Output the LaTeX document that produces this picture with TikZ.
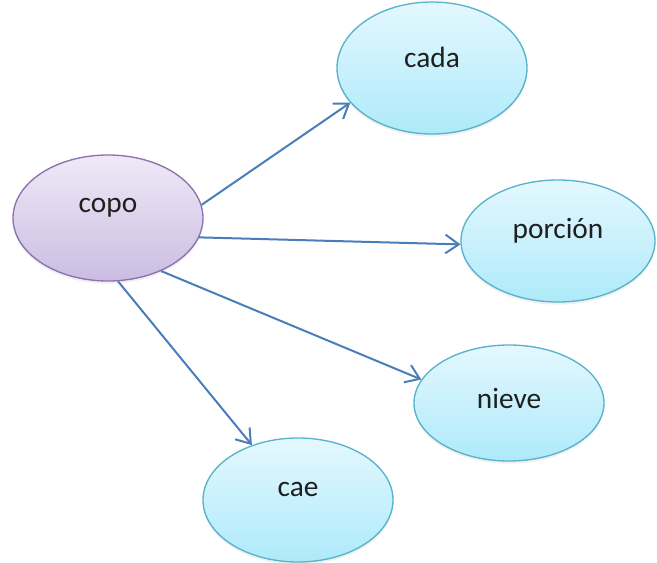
\documentclass[tikz,border=0pt]{standalone}
\usepackage{fontspec}
\setmainfont{Carlito}
\usetikzlibrary{shapes.geometric,arrows.meta,shadows}

\definecolor{linkblue}{HTML}{4A7EBB}
\definecolor{skytop}{HTML}{E4F8FE}
\definecolor{skybot}{HTML}{AEEAFA}
\definecolor{skyedge}{HTML}{58B2CB}
\definecolor{liltop}{HTML}{EFE9F7}
\definecolor{lilbot}{HTML}{CBBDE2}
\definecolor{liledge}{HTML}{8B71AF}

\tikzset{
  bubble/.style={ellipse, inner sep=0pt, line width=1pt,
    drop shadow={opacity=0.12, shadow xshift=0pt, shadow yshift=-2pt}},
  sky/.style={bubble, draw=skyedge, top color=skytop, bottom color=skybot},
  lilac/.style={bubble, draw=liledge, top color=liltop, bottom color=lilbot},
  word/.style={font=\fontsize{22}{26}\selectfont, text=black!88},
  link/.style={draw=linkblue, line width=1.5pt,
    -{Straight Barb[length=10pt,width=14pt,line width=1.5pt]}}
}

\begin{document}
\begin{tikzpicture}[x=0.75pt,y=-0.75pt]
  \useasboundingbox (0,0) rectangle (657,563);

  \node[lilac, minimum width=190*0.75pt, minimum height=126*0.75pt,
        label={[word, yshift=8pt]center:copo}] (copo) at (108,218) {};
  \node[sky, minimum width=190*0.75pt, minimum height=132*0.75pt,
        label={[word, yshift=8pt]center:cada}] (cada) at (432,68) {};
  \node[sky, minimum width=194*0.75pt, minimum height=122*0.75pt,
        label={[word, yshift=8pt]center:porción}] (porcion) at (558,241) {};
  \node[sky, minimum width=190*0.75pt, minimum height=116*0.75pt,
        label={[word, yshift=3pt]center:nieve}] (nieve) at (509,403) {};
  \node[sky, minimum width=190*0.75pt, minimum height=124*0.75pt,
        label={[word, yshift=8pt]center:cae}] (cae) at (298,500) {};

  \draw[link] (copo.8) -- (cada.203);
  \draw[link] (copo.-12) -- (porcion.182);
  \draw[link] (copo.-45) -- (nieve.165);
  \draw[link] (copo.-81) -- (cae.130);
\end{tikzpicture}
\end{document}
